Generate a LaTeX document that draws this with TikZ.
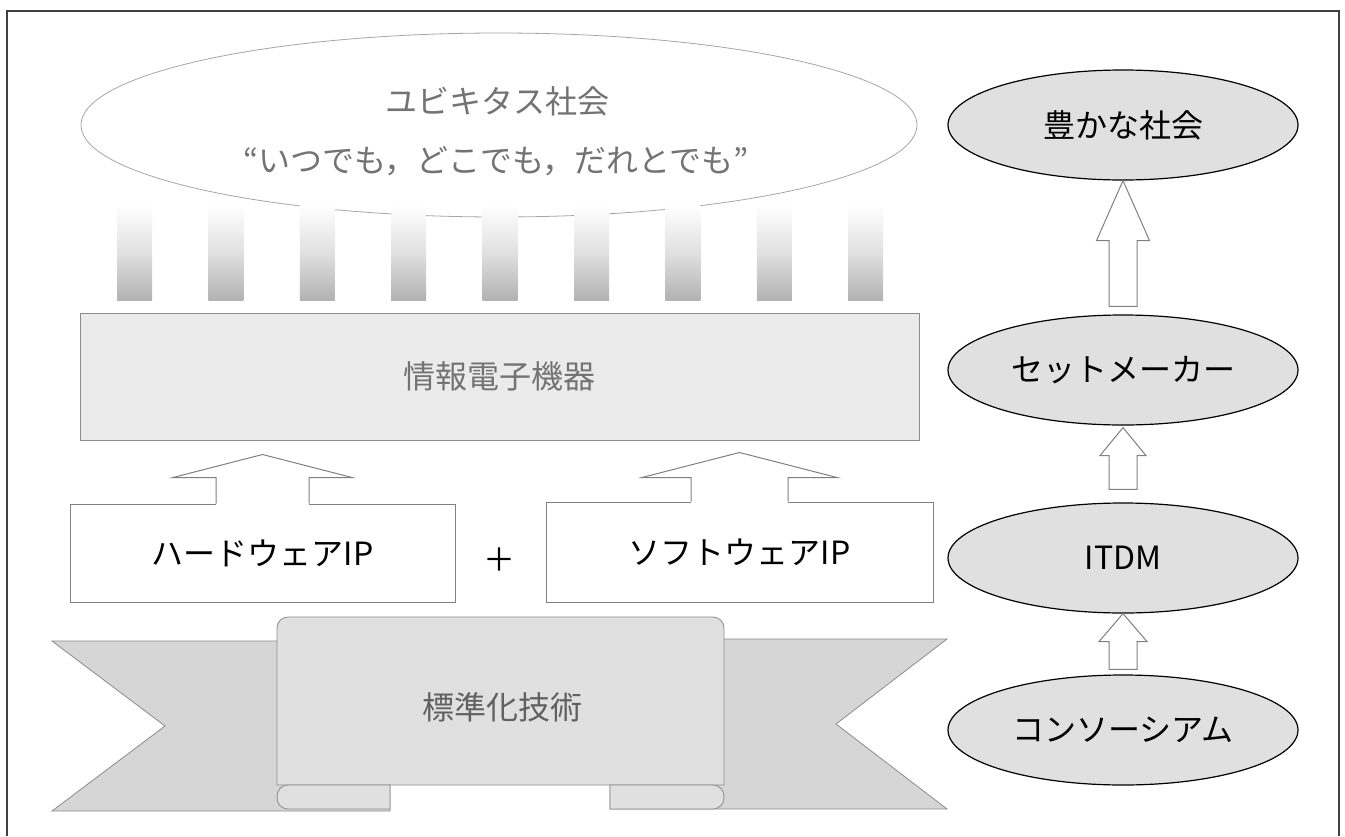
\documentclass[tikz,border=0pt]{standalone}
\usepackage{fontspec}
\newfontfamily\jp{Noto Sans CJK JP}
\usetikzlibrary{calc,shapes.geometric}
% open block arrow (bottom merges into a box): #1 bottom, #2 tip, #3 shaft half, #4 head half, #5 head length, #6 style
\newcommand\openarrow[6]{%
  \fill[white] let \p1=(#1), \p2=(#2) in
    (\x2-#3pt,\y1-1.5pt) -- (\x2-#3pt,\y2-#5pt) -- (\x2-#4pt,\y2-#5pt) -- (\x2,\y2)
    -- (\x2+#4pt,\y2-#5pt) -- (\x2+#3pt,\y2-#5pt) -- (\x2+#3pt,\y1-1.5pt) -- cycle;
  \draw[#6] let \p1=(#1), \p2=(#2) in
    (\x2-#3pt,\y1) -- (\x2-#3pt,\y2-#5pt) -- (\x2-#4pt,\y2-#5pt) -- (\x2,\y2)
    -- (\x2+#4pt,\y2-#5pt) -- (\x2+#3pt,\y2-#5pt) -- (\x2+#3pt,\y1);}
\newcommand\closedarrow[6]{%
  \draw[#6] let \p1=(#1), \p2=(#2) in
    (\x2-#3pt,\y1) -- (\x2-#3pt,\y2-#5pt) -- (\x2-#4pt,\y2-#5pt) -- (\x2,\y2)
    -- (\x2+#4pt,\y2-#5pt) -- (\x2+#3pt,\y2-#5pt) -- (\x2+#3pt,\y1) -- cycle;}
\begin{document}
\begin{tikzpicture}[x=1pt,y=-1pt,
  jptext/.style={font=\jp\fontsize{32}{36}\selectfont},
  greytext/.style={jptext, text=black!55},
  bigell/.style={ellipse, draw=black!35, line width=0.8pt, minimum width=836pt, minimum height=184pt, inner sep=0pt},
  rell/.style={ellipse, draw=black, line width=1.2pt, fill=black!12, minimum width=350pt, minimum height=110pt, inner sep=0pt, jptext},
  ipbox/.style={draw=black!50, line width=1pt, fill=white, jptext, inner sep=0pt},
  infobox/.style={draw=black!45, line width=1pt, fill=black!8, inner sep=0pt, greytext},
  bararrow/.style={draw=black!50, line width=1pt},
  rarrow/.style={draw=black!50, fill=white, line width=1pt},
  ribbon/.style={draw=black!45, line width=0.8pt, fill=black!16},
  panel/.style={draw=black!45, line width=0.8pt, fill=black!12},
  bar/.style={top color=white, bottom color=black!30, middle color=black!12}
]
\useasboundingbox (0,0) rectangle (1345,836);
\fill[white] (0,0) rectangle (1345,836);

% outer frame
\draw[line width=1.3pt, black!75] (7,836) -- (7,11) -- (1339,11) -- (1339,836);

% big ellipse
\node[bigell] (ubi) at (499,125) {};
\node[greytext] (ubi1) at (497,101) {ユビキタス社会};
\node[greytext] (ubi2) at (496,161) {“いつでも，どこでも，だれとでも”};

% bars
\foreach \i in {0,...,8}{
  \shade[bar] (117+\i*91.4,205) rectangle (152+\i*91.4,300);
}

% information device box
\node[infobox, minimum width=839pt, minimum height=127pt] (info) at (499.5,376.5) {情報電子機器};

% IP boxes
\node[ipbox, minimum width=385pt, minimum height=98pt] (hw) at (262.5,553) {ハードウェアIP};
\node[ipbox, minimum width=387pt, minimum height=100pt] (sw) at (739.5,552) {ソフトウェアIP};
\node[jptext] (plus) at (499,560) {＋};

\openarrow{hw.north}{$(hw.north)+(0,-49)$}{46.5}{89.5}{23}{bararrow}
\openarrow{sw.north}{$(sw.north)+(0,-49)$}{48.5}{97.5}{25}{bararrow}

% ribbon
\draw[ribbon] (52,641) -- (390,641) -- (390,811) -- (52,811) -- (165,726) -- cycle;
\draw[ribbon] (947,639) -- (610,639) -- (610,809) -- (947,809) -- (836,724) -- cycle;
\draw[panel] (277,785) [rounded corners=11pt] -- (277,617) -- (724,617) [sharp corners] -- (724,785) -- cycle;
\draw[panel] (390,785) -- (289,785) .. controls (281,785) and (277,790) .. (277,797)
  .. controls (277,804) and (281,809) .. (289,809) -- (390,809) -- cycle;
\draw[panel] (610,785) -- (610,809) -- (712,809) .. controls (720,809) and (724,804) .. (724,797)
  .. controls (724,790) and (720,785) .. (712,785) -- cycle;
\node[greytext, text=black!62] (std) at (502,707) {標準化技術};

% right column
\node[rell] (e1) at (1123,125) {豊かな社会};
\node[rell] (e2) at (1123,370) {セットメーカー};
\node[rell] (e3) at (1123,558) {ITDM};
\node[rell] (e4) at (1123,730) {コンソーシアム};

\closedarrow{$(e2.north)+(0,-8)$}{e1.south}{14}{26.5}{60}{rarrow}
\closedarrow{$(e3.north)+(0,-13)$}{$(e2.south)+(0,2)$}{14}{23}{28}{rarrow}
\closedarrow{$(e4.north)+(0,-5)$}{e3.south}{14}{24}{28}{rarrow}
\end{tikzpicture}
\end{document}
